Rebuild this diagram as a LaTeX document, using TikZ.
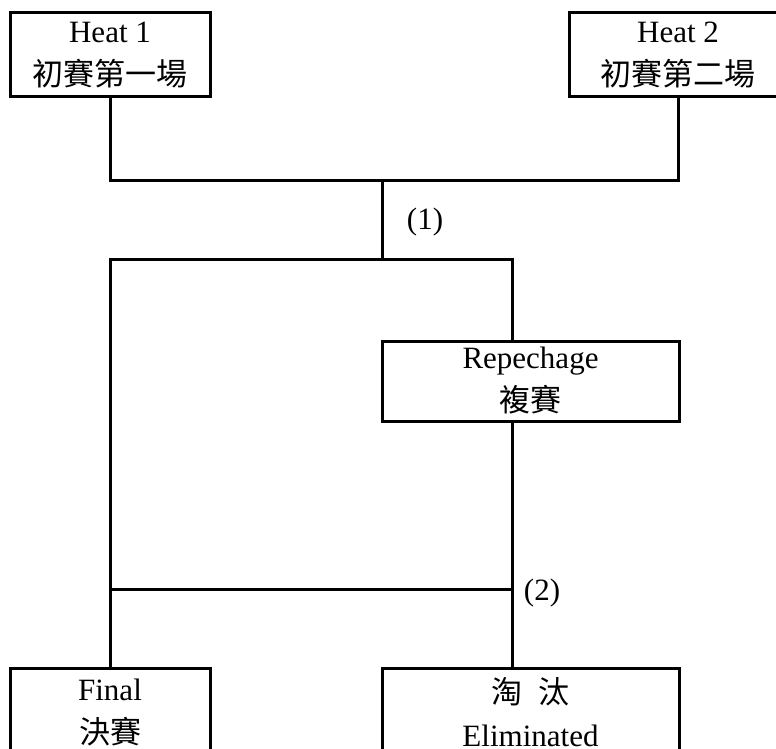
\documentclass[tikz,border=0pt]{standalone}
\usepackage{fontspec}
\setmainfont{Liberation Serif}
\newfontfamily\cjk{Noto Sans CJK TC}
\usetikzlibrary{calc}

\begin{document}
\begin{tikzpicture}[x=1pt,y=-1pt,line width=3pt,
	every node/.style={font=\fontsize{31}{43}\selectfont},
	racebox/.style={draw,line width=3pt,inner sep=0pt,outer sep=0pt,align=center}]
		%%%%% START %%%%%
		
		\useasboundingbox (0, 0) rectangle (776, 749);
		\clip (0, 0) rectangle (776, 749);
		
		\node[racebox, minimum width=200pt, minimum height=84pt] (heat1) at (110, 55) {Heat 1\\{\cjk 初賽第一場}};
		\node[racebox, minimum width=218pt, minimum height=84pt] (heat2) at (678, 55) {Heat 2\\{\cjk 初賽第二場}};
		
		\node[racebox, minimum width=297pt, minimum height=80pt] (rep) at (530.5, 381) {Repechage\\{\cjk 複賽}};
		
		\node[racebox, minimum width=200pt, minimum height=87pt] (final) at (110, 712) {Final\\{\cjk 決賽}};
		\node[racebox, minimum width=297pt, minimum height=87pt] (elim) at (530.5, 712) {{\cjk 淘\hspace{0.5em}汰}\\Eliminated};
		
		\coordinate (j1) at (382, 180);
		\coordinate (j2) at (382, 259);
		\coordinate (r1) at (512, 259);
		\coordinate (j3) at (512, 589);
		
		\draw (heat1.south) |- (heat2.south |- j1) -- (heat2.south);
		\draw (j1) -- (j2);
		\draw (final.north) |- (r1) -- (r1 |- rep.north);
		\draw (r1 |- rep.south) -- (r1 |- elim.north);
		\draw (j3) -- (j3 -| final.north);
		
		\node (lab1) at (425, 222) {(1)};
		\node (lab2) at (542, 593) {(2)};
		
		%%%%% END %%%%%
\end{tikzpicture}
\end{document}
